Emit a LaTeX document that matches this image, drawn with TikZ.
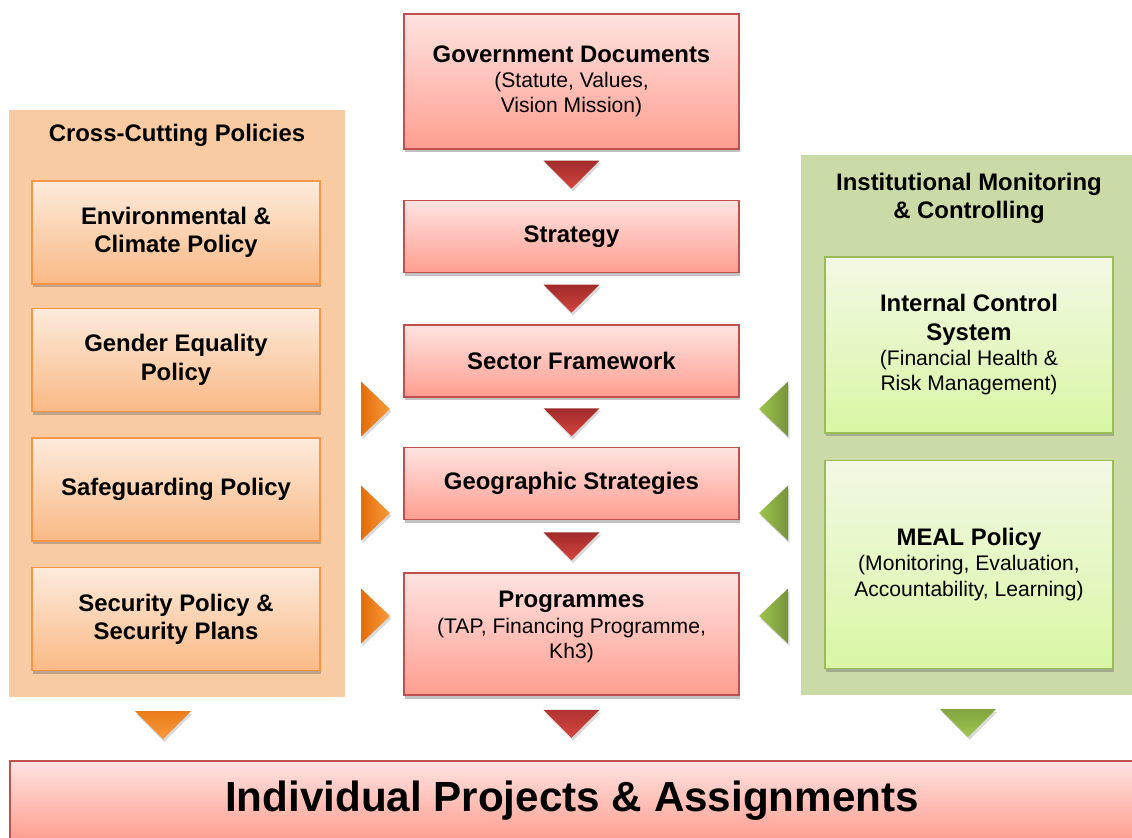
\documentclass[tikz,border=0pt]{standalone}
\usepackage{fontspec}
\setmainfont{Liberation Sans}
\usetikzlibrary{positioning,shadows,calc}

\definecolor{panelorange}{HTML}{F9CBA2}
\definecolor{panelgreen}{HTML}{CADBA8}
\definecolor{boxred}{HTML}{C0504D}
\definecolor{redtop}{HTML}{FFE3E1}
\definecolor{redbot}{HTML}{FF9E90}
\definecolor{boxorange}{HTML}{F79646}
\definecolor{orangetop}{HTML}{FDEBDC}
\definecolor{orangebot}{HTML}{FAB985}
\definecolor{boxgreen}{HTML}{9BBB59}
\definecolor{greentop}{HTML}{F2F8E4}
\definecolor{greenbot}{HTML}{D9F7A4}
\definecolor{arrowreddark}{HTML}{A02B2B}
\definecolor{arrowredlight}{HTML}{D4453E}
\definecolor{arroworangedark}{HTML}{E36C09}
\definecolor{arroworangelight}{HTML}{FA9A3C}
\definecolor{arrowgreendark}{HTML}{77933C}
\definecolor{arrowgreenlight}{HTML}{9DC64E}

\newcommand{\subline}[1]{{\mdseries\fontsize{15}{17}\selectfont #1}}

\tikzset{
  box/.style={draw, line width=1.1pt, align=center, inner sep=2pt,
    font=\bfseries\fontsize{17}{20}\selectfont,
    drop shadow={shadow xshift=1pt, shadow yshift=-2.5pt, opacity=.4, fill=black!60}},
  red box/.style={box, draw=boxred, top color=redtop, bottom color=redbot, minimum width=8.375cm},
  orange box/.style={box, draw=boxorange, top color=orangetop, bottom color=orangebot,
    minimum width=7.2cm, minimum height=2.575cm},
  green box/.style={box, draw=boxgreen, top color=greentop, bottom color=greenbot, minimum width=7.2cm},
  panel/.style={inner sep=0pt, outer sep=0pt},
  title/.style={align=center, font=\bfseries\fontsize{17}{20}\selectfont},
  tri shadow/.style={drop shadow={shadow xshift=1pt, shadow yshift=-2pt, opacity=.25, fill=black!60}},
  arrow red/.style={tri shadow, top color=arrowreddark, bottom color=arrowredlight},
  arrow orange/.style={tri shadow, left color=arroworangedark, right color=arroworangelight},
  arrow orange down/.style={tri shadow, top color=arroworangedark, bottom color=arroworangelight},
  arrow green/.style={tri shadow, left color=arrowgreenlight, right color=arrowgreendark},
  arrow green down/.style={tri shadow, top color=arrowgreendark, bottom color=arrowgreenlight},
}

\begin{document}
\begin{tikzpicture}[x=0.025cm,y=-0.025cm]
  \useasboundingbox (0,0) rectangle (1132,837);

  \node[panel, fill=panelorange, minimum width=8.4cm, minimum height=14.675cm] (ccp) at (177,403.5) {};
  \node[panel, fill=panelgreen, minimum width=8.35cm, minimum height=13.5cm] (imc) at (968,425) {};
  \node[title] (ccptitle) at (177,135) {Cross-Cutting Policies};
  \node[title] (imctitle) at (969,198) {Institutional Monitoring\\ \& Controlling};

  \node[red box, minimum height=3.375cm, anchor=north] (gov) at (571.5,13)
    {Government Documents\\[-2pt] \subline{(Statute, Values,}\\[-2pt] \subline{Vision Mission)}};
  \node[red box, minimum height=1.8cm, below=1.25cm of gov] (strat) {Strategy};
  \node[red box, minimum height=1.8cm, below=1.275cm of strat] (sector) {Sector Framework};
  \node[red box, minimum height=1.8cm, below=1.225cm of sector] (geo) {Geographic Strategies};
  \node[red box, minimum height=3.05cm, below=1.3cm of geo] (prog)
    {Programmes\\[-2pt] \subline{(TAP, Financing Programme,}\\[-2pt] \subline{Kh3)}\\[-7pt]};

  \node[orange box, anchor=north] (env) at (176,180) {Environmental \&\\ Climate Policy};
  \node[orange box, below=0.575cm of env] (gender) {Gender Equality\\ Policy};
  \node[orange box, below=0.625cm of gender] (safe) {Safeguarding Policy};
  \node[orange box, below=0.625cm of safe] (secur) {Security Policy \&\\ Security Plans};

  \node[green box, minimum height=4.4cm, anchor=north] (ics) at (969,256)
    {Internal Control\\ System\\[-2pt] \subline{(Financial Health \&}\\[-2pt] \subline{Risk Management)}};
  \node[green box, minimum height=5.2cm, below=0.65cm of ics] (meal)
    {MEAL Policy\\[-2pt] \subline{(Monitoring, Evaluation,}\\[-2pt] \subline{Accountability, Learning)}};

  \node[red box, minimum width=28.1cm, minimum height=2cm, anchor=north,
    font=\bfseries\fontsize{30}{34}\selectfont] (proj) at (572,760) {Individual Projects \& Assignments};

  \foreach \a/\b in {gov/strat,strat/sector,sector/geo,geo/prog}
    \path[arrow red] ($(\a.south)!.5!(\b.north)$) +(-28,-14) -- +(28,-14) -- +(0,14) -- cycle;

  \foreach \y in {409,513,616}{
    \path[arrow orange] (361,\y-27.5) -- (390,\y) -- (361,\y+27.5) -- cycle;
    \path[arrow green] (788,\y-27.5) -- (759,\y) -- (788,\y+27.5) -- cycle;
  }

  \path[arrow orange down] ([xshift=-10]ccp.south) +(-28,14) -- +(28,14) -- +(0,42) -- cycle;
  \path[arrow red] (prog.south) +(-28,14) -- +(28,14) -- +(0,42) -- cycle;
  \path[arrow green down] (imc.south) +(-28,14) -- +(28,14) -- +(0,42) -- cycle;
\end{tikzpicture}
\end{document}
